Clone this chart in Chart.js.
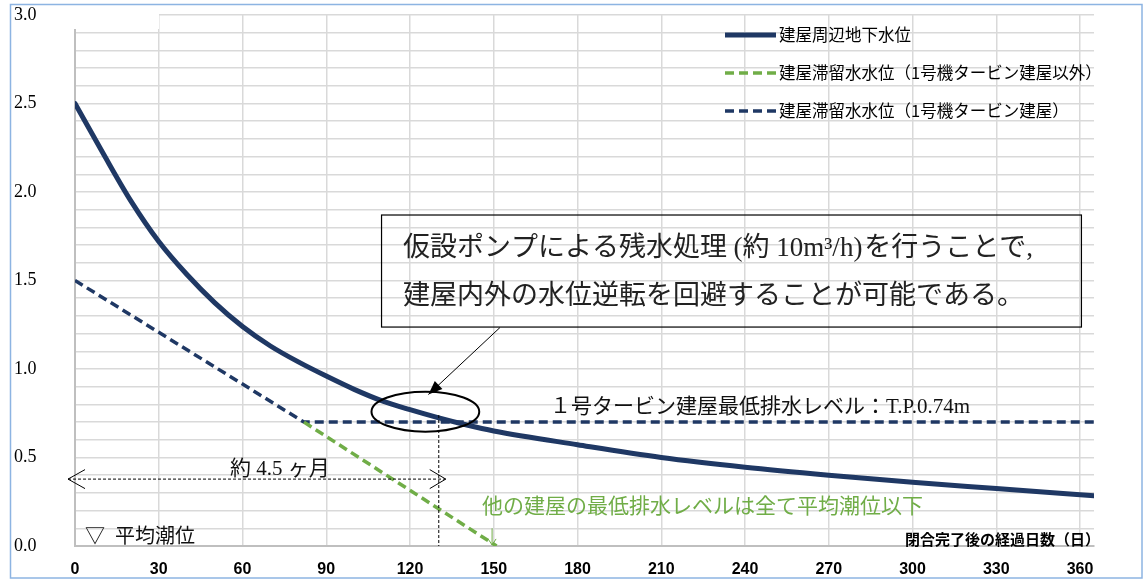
<!DOCTYPE html>
<html lang="ja">
<head>
<meta charset="utf-8">
<title>建屋周辺地下水位と建屋滞留水水位</title>
<script src="https://cdn.jsdelivr.net/npm/chart.js@4.4.1/dist/chart.umd.min.js"></script>
<style>
  html, body { margin: 0; padding: 0; background: #fff; }
  #wrap { width: 1144px; height: 581px; position: relative; }
</style>
</head>
<body>
<div id="wrap"><canvas id="myChart"></canvas></div>
<script>
// 建屋周辺地下水位（実線）
const groundDays  = [0, 10, 20, 30, 40, 50, 60, 70, 80, 90, 100, 110, 120, 130, 140, 150, 180, 210, 240, 270, 300, 330, 365];
const groundLevel = [2.50, 2.22, 1.95, 1.72, 1.535, 1.375, 1.24, 1.13, 1.04, 0.96, 0.885, 0.82, 0.77, 0.725, 0.685, 0.65, 0.572, 0.50, 0.445, 0.40, 0.36, 0.325, 0.284];

// 建屋滞留水水位（1号機タービン建屋以外）
const otherDays  = [82, 151];
const otherLevel = [0.70, 0.0];

// 建屋滞留水水位（1号機タービン建屋）
const t1Days  = [0, 82, 365];
const t1Level = [1.50, 0.70, 0.70];

const seriesNames = ['建屋周辺地下水位', '建屋滞留水水位（1号機タービン建屋以外）', '建屋滞留水水位（1号機タービン建屋）'];
const xTicks  = [0, 30, 60, 90, 120, 150, 180, 210, 240, 270, 300, 330, 360];
const yLabels = ['0.0', '0.5', '1.0', '1.5', '2.0', '2.5', '3.0'];

const NAVY = '#1f3864';
const GREEN = '#70ad47';
const JP = "'Noto Sans CJK JP', sans-serif";
const MIX = "'Liberation Serif', 'Noto Sans CJK JP', serif";

const toPts = (xs, ys) => xs.map((x, i) => ({ x: x, y: ys[i] }));

function openHead(ctx, tx, ty, dir, len, half) {
  ctx.beginPath();
  ctx.moveTo(tx - dir * len, ty - half);
  ctx.lineTo(tx, ty);
  ctx.lineTo(tx - dir * len, ty + half);
  ctx.stroke();
}

const paper = {
  id: 'paper',
  beforeDraw(chart) {
    const ctx = chart.ctx;
    ctx.save();
    ctx.fillStyle = '#fff';
    ctx.fillRect(0, 0, chart.width, chart.height);
    ctx.restore();
  },
  beforeDatasetsDraw(chart) {
    // 左上の欠け（元図どおり）
    const { ctx, chartArea } = chart;
    ctx.save();
    ctx.fillStyle = '#fff';
    ctx.fillRect(chartArea.left - 2, chartArea.top - 3, 86, 17);
    ctx.restore();
  },
  afterDraw(chart) {
    const ctx = chart.ctx;
    ctx.save();
    ctx.strokeStyle = '#8db4e2';
    ctx.lineWidth = 1.5;
    ctx.strokeRect(10.5, 4.5, 1131.5, 573.5);
    ctx.restore();
  }
};

const legendInside = {
  id: 'legendInside',
  afterDatasetsDraw(chart) {
    const ctx = chart.ctx;
    const rows = [35, 73, 111];
    ctx.save();
    chart.data.datasets.forEach((ds, i) => {
      ctx.strokeStyle = ds.borderColor;
      ctx.lineWidth = ds.borderWidth;
      ctx.setLineDash(ds.borderDash || []);
      ctx.beginPath();
      ctx.moveTo(725, rows[i]);
      ctx.lineTo(776, rows[i]);
      ctx.stroke();
      ctx.setLineDash([]);
      ctx.fillStyle = '#000';
      ctx.font = '16.5px ' + JP;
      ctx.textAlign = 'left';
      ctx.textBaseline = 'middle';
      ctx.fillText(ds.label, 779, rows[i]);
    });
    ctx.restore();
  }
};

const notes = {
  id: 'notes',
  afterDatasetsDraw(chart) {
    const { ctx, chartArea, scales: { x, y } } = chart;
    const X = d => x.getPixelForValue(d);
    const Y = v => y.getPixelForValue(v);
    ctx.save();
    ctx.textBaseline = 'middle';
    ctx.textAlign = 'left';

    // 吹き出し
    const bx0 = X(109.8), bx1 = X(360.5), by0 = Y(1.87), by1 = Y(1.237);
    ctx.strokeStyle = '#000';
    ctx.lineWidth = 1.2;
    ctx.strokeRect(bx0, by0, bx1 - bx0, by1 - by0);
    ctx.fillStyle = '#222';
    ctx.font = '27px ' + MIX;
    const seg2 = '(約 10m³/h)';
    ctx.fillText('仮設ポンプによる残水処理', bx0 + 21.5, Y(1.678));
    ctx.fillText(seg2, bx0 + 352, Y(1.678));
    ctx.fillText('を行うことで,', bx0 + 352 + ctx.measureText(seg2).width + 2, Y(1.678));
    ctx.fillText('建屋内外の水位逆転を回避することが可能である。', bx0 + 21.5, Y(1.407));

    // 引出し線と矢印
    const lx0 = X(152.2), ly0 = Y(1.234), lx1 = X(126.6), ly1 = Y(0.856);
    ctx.lineWidth = 1;
    ctx.beginPath();
    ctx.moveTo(lx0, ly0);
    ctx.lineTo(lx1, ly1);
    ctx.stroke();
    const ang = Math.atan2(ly1 - ly0, lx1 - lx0);
    ctx.fillStyle = '#000';
    ctx.beginPath();
    ctx.moveTo(lx1, ly1);
    ctx.lineTo(lx1 - 15 * Math.cos(ang - 0.38), ly1 - 15 * Math.sin(ang - 0.38));
    ctx.lineTo(lx1 - 15 * Math.cos(ang + 0.38), ly1 - 15 * Math.sin(ang + 0.38));
    ctx.closePath();
    ctx.fill();

    // 楕円
    const ecx = X(125.5), ecy = Y(0.759);
    ctx.lineWidth = 2;
    ctx.beginPath();
    ctx.ellipse(ecx, ecy, X(125.5 + 19.3) - ecx, Y(0.759 - 0.113) - ecy, 0, 0, Math.PI * 2);
    ctx.stroke();

    // 縦の点線
    ctx.lineWidth = 1;
    ctx.setLineDash([3, 2]);
    ctx.beginPath();
    ctx.moveTo(X(130.3), Y(0.74));
    ctx.lineTo(X(130.3), Y(0));
    ctx.stroke();

    // 約4.5ヶ月 の両矢印
    const ay = Y(0.378);
    ctx.beginPath();
    ctx.moveTo(X(-2.5), ay);
    ctx.lineTo(X(132.8), ay);
    ctx.stroke();
    ctx.setLineDash([]);
    openHead(ctx, X(-2.5), ay, -1, 17, 9.5);
    openHead(ctx, X(132.8), ay, 1, 16, 9.5);
    ctx.fillStyle = '#111';
    ctx.font = '21px ' + MIX;
    ctx.fillText('約 4.5 ヶ月', X(55.5), Y(0.435));

    // 平均潮位
    ctx.font = '20px ' + MIX;
    ctx.fillText('▽  平均潮位', X(3.6), Y(0.045));

    // 1号タービン建屋最低排水レベル
    ctx.font = '21px ' + MIX;
    ctx.fillText('１号タービン建屋最低排水レベル：T.P.0.74m', X(170.1), Y(0.78));

    // 他の建屋
    ctx.fillStyle = GREEN;
    ctx.fillText('他の建屋の最低排水レベルは全て平均潮位以下', X(145.8), Y(0.22));
    ctx.strokeStyle = GREEN;
    ctx.lineWidth = 1;
    const gx = X(149.4);
    ctx.beginPath();
    ctx.moveTo(gx, Y(0.10));
    ctx.lineTo(gx, Y(0.006));
    ctx.stroke();
    ctx.beginPath();
    ctx.moveTo(gx - 4, Y(0.04));
    ctx.lineTo(gx, Y(0.006));
    ctx.lineTo(gx + 4, Y(0.04));
    ctx.stroke();

    // 軸タイトル
    ctx.fillStyle = '#000';
    ctx.font = 'bold 15px ' + JP;
    ctx.textAlign = 'right';
    ctx.fillText('閉合完了後の経過日数（日）', chartArea.right + 6, Y(0.04));
    ctx.restore();
  }
};

const ctx = document.getElementById('myChart');

new Chart(ctx, {
  type: 'line',
  data: {
    datasets: [
      {
        label: seriesNames[0],
        data: toPts(groundDays, groundLevel),
        borderColor: NAVY,
        borderWidth: 5,
        borderCapStyle: 'round',
        pointRadius: 0,
        cubicInterpolationMode: 'monotone'
      },
      {
        label: seriesNames[1],
        data: toPts(otherDays, otherLevel),
        borderColor: GREEN,
        borderWidth: 3.5,
        borderDash: [9, 5],
        pointRadius: 0
      },
      {
        label: seriesNames[2],
        data: toPts(t1Days, t1Level),
        borderColor: NAVY,
        borderWidth: 3.5,
        borderDash: [9, 5],
        pointRadius: 0
      }
    ]
  },
  options: {
    responsive: true,
    maintainAspectRatio: false,
    animation: false,
    events: [],
    layout: { padding: { left: 14, right: 50, top: 15, bottom: 0 } },
    plugins: {
      legend: { display: false },
      tooltip: { enabled: false }
    },
    scales: {
      x: {
        type: 'linear',
        min: 0,
        max: 365,
        afterBuildTicks: ax => { ax.ticks = xTicks.map(v => ({ value: v })); },
        afterFit: ax => { ax.height = 35; },
        grid: { color: '#d9d9d9', lineWidth: 1.5, drawTicks: false },
        border: { color: '#bfbfbf', width: 2 },
        ticks: {
          padding: 14,
          color: '#000',
          autoSkip: false,
          maxRotation: 0,
          font: { family: "'Liberation Sans', Arial, sans-serif", size: 16, weight: 'bold' }
        }
      },
      y: {
        min: 0,
        max: 3,
        afterFit: ax => { ax.width = 61; },
        grid: { color: '#d9d9d9', lineWidth: 1.5, drawTicks: false },
        border: { color: '#bfbfbf', width: 2 },
        ticks: {
          stepSize: 0.1,
          crossAlign: 'far',
          padding: 0,
          color: '#000',
          autoSkip: false,
          font: { family: 'Liberation Serif', size: 18 },
          callback: v => yLabels.find(l => Math.abs(parseFloat(l) - v) < 1e-6) || ''
        }
      }
    }
  },
  plugins: [paper, legendInside, notes]
});
</script>
</body>
</html>
